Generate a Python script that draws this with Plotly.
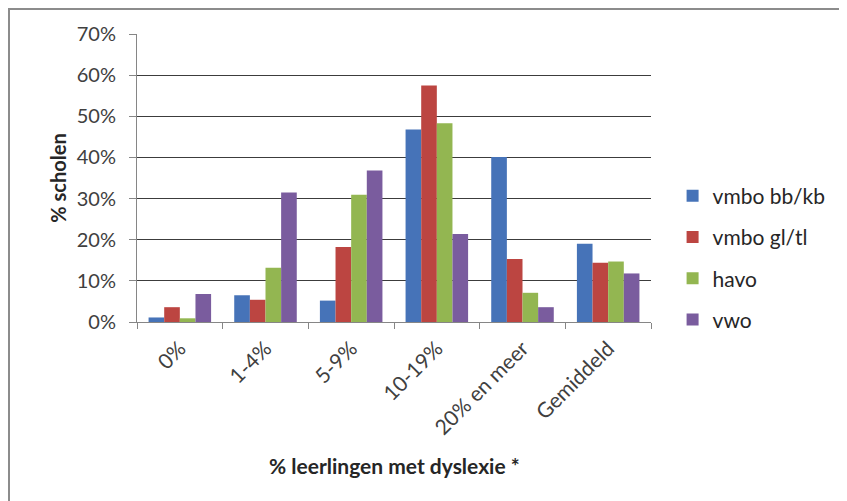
import plotly.graph_objects as go

categories = ["0%", "1-4%", "5-9%", "10-19%", "20% en meer", "Gemiddeld"]
vmbo_bbkb = [1.1, 6.5, 5.2, 46.8, 40.1, 19.0]
vmbo_gltl = [3.6, 5.4, 18.2, 57.5, 15.3, 14.4]
havo = [0.9, 13.2, 30.9, 48.3, 7.1, 14.7]
vwo = [6.8, 31.5, 36.8, 21.4, 3.6, 11.8]
series_names = ["vmbo bb/kb", "vmbo gl/tl", "havo", "vwo"]
series_values = [vmbo_bbkb, vmbo_gltl, havo, vwo]
colors = ["#4673B8", "#BC4541", "#93B651", "#7A5C9E"]
y_ticks = [0, 10, 20, 30, 40, 50, 60, 70]
y_tick_labels = [f"{v}%" for v in y_ticks]

FONT = "Lato, 'Open Sans', sans-serif"

# page body has an 8px margin; figure coordinates are offset by 8px
W, H = 839, 493
PL, PR, PT, PB = 129, 643, 26, 314  # plot area in figure px

fig = go.Figure()
for i, (name, vals, col) in enumerate(zip(series_names, series_values, colors)):
    fig.add_trace(go.Bar(
        x=categories, y=vals, name=name,
        marker=dict(color=col, line=dict(width=0)),
        legendgroup=f"g{i}",
    ))

pw, ph = PR - PL, PB - PT
fig.update_layout(
    width=W, height=H,
    margin=dict(l=PL, r=W - PR, t=PT, b=H - PB),
    paper_bgcolor="white", plot_bgcolor="white",
    barmode="group", bargap=0.27, bargroupgap=0,
    font=dict(family=FONT, color="#404040", size=20),
    showlegend=True,
    legend=dict(x=1.042, xanchor="left", y=0.222, yanchor="middle",
                font=dict(size=21, color="#262626"),
                tracegroupgap=11, itemwidth=30,
                bgcolor="rgba(0,0,0,0)"),
    xaxis=dict(
        type="category", tickangle=-45, tickson="boundaries",
        ticks="outside", ticklen=6, tickcolor="#868686",
        showline=True, linecolor="#868686", linewidth=1,
        showgrid=False, tickfont=dict(size=21, color="#404040"),
        ticklabelstandoff=5,
    ),
    yaxis=dict(
        range=[0, 70], tickvals=y_ticks, ticktext=y_tick_labels,
        ticks="outside", ticklen=7, tickcolor="#868686",
        showline=True, linecolor="#868686", linewidth=1,
        showgrid=True, gridcolor="#3c3c3c", gridwidth=1,
        zeroline=False, tickfont=dict(size=20, color="#404040"),
        ticklabelstandoff=9,
        title=dict(text="<b>% scholen</b>", font=dict(size=20, color="#262626"), standoff=4),
    ),
    shapes=[dict(type="rect", xref="paper", yref="paper",
                 x0=-(PL - 1) / pw, x1=(835 - PL) / pw,
                 y0=-(H + 5 - PB) / ph, y1=(PB - 1) / ph,
                 line=dict(color="#8c8c8c", width=2), fillcolor="rgba(0,0,0,0)")],
    annotations=[dict(text="<b>% leerlingen met dyslexie *</b>", xref="paper", yref="paper",
                      x=0.5, y=-(457 - PB) / ph, xanchor="center", yanchor="middle",
                      showarrow=False, font=dict(size=21, color="#262626"))],
)

fig.write_html("out.html")
